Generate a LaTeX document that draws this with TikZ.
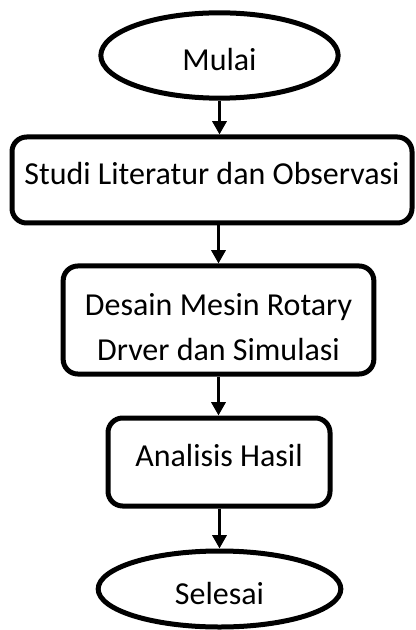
\documentclass[tikz,border=0pt]{standalone}
\usepackage{fontspec}
\setmainfont{Carlito}
\usetikzlibrary{positioning,shapes.geometric,arrows.meta}
\tikzset{term node/.style={ellipse,draw,line width=3.75pt,inner sep=0pt,text height=23pt,text depth=0pt,font=\fontsize{24}{34}\selectfont}}
\tikzset{proc node/.style={rectangle,rounded corners=11pt,draw,line width=3.75pt,inner sep=0pt,text height=16pt,text depth=9.5pt,font=\fontsize{24}{34}\selectfont}}
\tikzset{flow line/.style={line width=2.4pt,-{Triangle[length=10pt,width=10.5pt]}}}

\begin{document}
\begin{tikzpicture}[x=0.75pt,y=-0.75pt]
            \useasboundingbox (0,0) rectangle (416,630);
            \node[term node, minimum width=178pt, minimum height=64pt] (mulai) at (219.5,55.5) {Mulai};
            \node[proc node, minimum width=300pt, minimum height=64.5pt] (studi) at (212,180) {Studi Literatur dan Observasi};
            \node[proc node, minimum width=233pt, minimum height=81pt, align=center, text height=60.7pt, text depth=0pt] (desain) at (218.5,320) {Desain Mesin Rotary\\Drver dan Simulasi};
            \node[proc node, minimum width=166.5pt, minimum height=66pt] (analisis) at (219,462) {Analisis Hasil};
            \node[term node, minimum width=182pt, minimum height=57pt] (selesai) at (219.5,589) {Selesai};

            \draw[flow line] (mulai.south) -- (mulai.south |- studi.north);
            \draw[flow line] (desain.north |- studi.south) -- (desain.north);
            \draw[flow line] (desain.south) -- (desain.south |- analisis.north);
            \draw[flow line] (selesai.north |- analisis.south) -- (selesai.north);
        \end{tikzpicture}
\end{document}
